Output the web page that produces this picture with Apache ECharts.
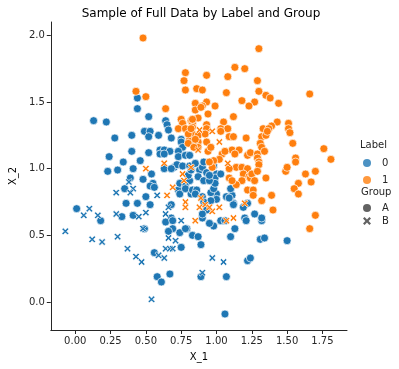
<!DOCTYPE html>
<html>
<head>
<meta charset="utf-8">
<script src="https://cdn.jsdelivr.net/npm/echarts@6/dist/echarts.min.js"></script>
<style>
  html, body { margin: 0; padding: 0; background: #fff; }
  #chart { width: 399px; height: 369px; }
</style>
</head>
<body>
<div id="chart"></div>
<script>
var xTicks = [0, 0.25, 0.5, 0.75, 1.0, 1.25, 1.5, 1.75];
var yTicks = [0, 0.5, 1.0, 1.5, 2.0];

// Label 0, Group A (circles)
var label0A = [
    [0.44,1.53],[0.44,1.45],[0.13,1.36],[0.22,1.35],[0.52,1.39],[0.64,1.36],[0.65,1.33],[0.66,1.29],
    [0.49,1.28],[0.53,1.28],[0.52,1.24],[0.59,1.25],[0.28,1.23],[0.40,1.25],[0.68,1.23],[0.75,1.22],
    [0.75,1.20],[0.76,1.16],[0.60,1.14],[0.63,1.14],[0.67,1.13],[0.60,1.11],[0.63,1.11],[0.73,1.13],
    [0.73,1.09],[0.78,1.10],[0.81,1.10],[0.40,1.13],[0.52,1.12],[0.24,1.09],[0.34,1.05],[0.46,1.06],
    [0.41,1.00],[0.30,0.99],[0.23,0.98],[0.70,1.01],[0.72,1.03],[0.76,1.02],[0.81,1.02],[0.63,1.00],
    [0.68,1.00],[0.39,0.93],[0.48,0.92],[0.54,0.96],[0.55,0.89],[0.53,0.87],[0.56,0.86],[0.73,0.84],
    [0.74,0.81],[0.78,0.85],[0.82,0.81],[0.74,0.89],[0.35,0.85],[0.50,0.79],[0.36,0.74],[0.44,0.74],
    [0.53,0.73],[0.68,0.73],[0.01,0.70],[0.18,0.61],[0.33,0.64],[0.41,0.65],[0.68,0.63],[0.64,0.60],
    [0.69,0.61],[0.79,0.55],[0.74,0.52],[0.69,0.55],[0.66,0.53],[0.83,0.50],[0.49,0.55],[0.75,0.41],
    [0.56,0.37],[0.58,0.19],[0.61,0.15],[0.67,0.21],[1.06,-0.09],[1.07,0.19],[0.89,0.19],[1.22,0.31],
    [1.24,0.33],[1.31,0.47],[1.34,0.48],[1.50,0.46],[1.10,0.49],[1.13,0.55],[0.87,0.49],[0.89,0.43],
    [0.78,0.55],[1.32,0.61],[1.32,0.63],[1.27,0.66],[1.20,0.63],[1.21,0.61],[0.98,0.57],[0.95,0.59],
    [1.03,0.61],[1.06,0.61],[0.90,0.63],[1.22,0.74],[1.19,0.71],[1.11,0.80],[1.12,0.74],[1.12,0.73],
    [1.07,0.79],[1.09,0.78],[1.00,0.81],[1.00,0.77],[0.96,0.82],[0.98,0.85],[0.96,0.76],[0.90,0.79],
    [0.91,0.75],[0.93,0.69],[0.90,0.66],[1.10,0.85],[0.81,0.91],[0.80,0.95],[0.82,0.99],[0.88,0.99],
    [0.90,1.01],[0.85,1.04],[0.91,1.05],[0.87,0.94],[0.91,0.91],[0.93,0.97],[1.00,0.96],[0.99,0.93],
    [0.99,0.89],[0.95,0.91],[0.95,0.95],[0.98,1.02],[1.03,0.96],[0.78,0.87],[0.78,0.85],[0.83,0.84],
    [0.86,0.84],[0.85,0.81]
];

// Label 0, Group B (crosses)
var label0B = [
    [0.38,0.90],[0.41,0.85],[0.39,0.82],[0.29,0.82],[0.58,0.80],[0.66,0.71],[0.10,0.70],[0.06,0.65],
    [0.16,0.65],[0.29,0.66],[0.45,0.64],[0.50,0.67],[0.64,0.66],[0.75,0.61],[0.48,0.55],[-0.07,0.53],
    [0.12,0.47],[0.19,0.45],[0.30,0.49],[0.66,0.48],[0.71,0.46],[0.37,0.40],[0.64,0.40],[0.67,0.40],
    [0.69,0.40],[0.59,0.35],[0.63,0.33],[0.43,0.34],[0.47,0.30],[0.54,0.02],[0.90,0.22],[0.97,0.33],
    [1.05,0.30]
];

// Label 1, Group A (circles)
var label1A = [
    [0.48,1.98],[0.78,1.72],[0.77,1.66],[0.78,1.59],[0.43,1.58],[0.50,1.54],[0.64,1.45],[0.75,1.37],
    [0.76,1.34],[0.82,1.36],[0.73,1.30],[0.82,1.25],[0.81,1.22],[1.30,1.90],[1.13,1.76],[1.20,1.75],
    [1.08,1.69],[1.29,1.66],[0.93,1.70],[1.30,1.58],[1.35,1.55],[1.38,1.53],[1.66,1.56],[1.44,1.49],
    [1.07,1.57],[1.18,1.51],[1.27,1.50],[1.23,1.47],[0.86,1.60],[0.90,1.59],[0.85,1.49],[0.85,1.44],
    [0.93,1.50],[0.90,1.47],[0.99,1.47],[0.94,1.41],[1.12,1.39],[0.87,1.38],[0.83,1.34],[1.05,1.35],
    [1.43,1.35],[1.51,1.34],[0.78,1.30],[0.83,1.31],[0.93,1.33],[0.93,1.30],[1.03,1.30],[1.08,1.30],
    [1.33,1.30],[1.39,1.32],[1.37,1.30],[1.51,1.30],[1.52,1.27],[0.83,1.26],[0.87,1.25],[0.80,1.26],
    [0.92,1.26],[1.03,1.28],[1.09,1.24],[1.12,1.24],[1.21,1.23],[1.32,1.24],[1.35,1.25],[1.36,1.28],
    [1.31,1.19],[1.32,1.16],[1.54,1.19],[0.84,1.18],[0.87,1.20],[0.87,1.16],[0.93,1.20],[0.94,1.13],
    [0.96,1.16],[1.11,1.14],[1.16,1.14],[1.13,1.11],[1.04,1.11],[1.06,1.13],[1.02,1.07],[1.22,1.10],
    [1.24,1.12],[1.29,1.11],[1.29,1.08],[1.30,1.05],[1.56,1.08],[1.76,1.15],[1.81,1.07],[0.98,1.06],
    [0.97,1.01],[0.89,1.46],[0.83,1.37],[0.82,1.30],[0.85,1.22],[0.80,1.19],[0.84,1.16],[1.34,1.13],
    [1.14,1.01],[1.09,1.00],[1.67,0.90],[0.95,1.05],[1.18,1.01],[1.22,1.00],[1.19,0.96],[1.23,0.94],
    [1.30,1.03],[1.18,0.91],[1.14,0.88],[1.09,0.93],[1.11,0.91],[1.24,0.93],[1.25,0.96],[1.29,0.98],
    [1.35,0.93],[1.27,0.91],[1.22,0.84],[1.26,0.84],[1.26,0.80],[1.32,0.76],[1.40,0.69],[1.39,0.80],
    [1.49,0.98],[1.50,1.01],[1.56,1.05],[1.63,0.96],[1.70,0.98],[1.58,0.89],[1.55,0.85],[1.58,0.81],
    [1.66,0.55],[1.70,0.65]
];

// Label 1, Group B (crosses)
var label1B = [
    [0.63,1.04],[0.50,1.00],[0.76,0.96],[0.82,1.01],[0.69,0.86],[0.77,0.91],[0.65,0.80],[0.78,0.75],
    [0.78,0.71],[0.85,0.61],[1.07,0.61],[1.12,0.63],[0.97,0.68],[1.02,0.71],[1.20,0.74],[0.88,0.71],
    [0.92,0.73],[0.95,0.71],[0.89,0.78],[0.88,1.29],[0.97,1.28],[1.02,1.20],[1.08,1.04],[0.87,1.14]
];

var blue = '#1f77b4';
var orange = '#ff7f0e';
var dark = '#3b3b3b';
var cross = 'path://M0,2 L2,0 L5,3 L8,0 L10,2 L7,5 L10,8 L8,10 L5,7 L2,10 L0,8 L3,5 Z';
var font = 'DejaVu Sans';

function points(name, data, color, symbol) {
    return {
        name: name,
        type: 'scatter',
        data: data,
        symbol: symbol,
        symbolSize: symbol === 'circle' ? 8 : 7,
        itemStyle: {color: color, borderColor: '#fff', borderWidth: 0.7, opacity: 1},
        emphasis: {disabled: true},
        animation: false
    };
}

function dummy(name, color, symbol) {
    return {name: name, type: 'scatter', data: [], symbol: symbol, itemStyle: {color: color}};
}

var chart = echarts.init(document.getElementById('chart'), null, {renderer: 'canvas'});
var option = {
    animation: false,
    textStyle: {fontFamily: font},
    title: {
        text: 'Sample of Full Data by Label and Group',
        left: 196, top: 3, textAlign: 'center',
        textStyle: {fontSize: 12, fontWeight: 'normal', color: '#000', fontFamily: font}
    },
    grid: {left: 45, right: 52, top: 22, bottom: 39, containLabel: false},
    xAxis: {
        type: 'value', min: -0.173, max: 1.924,
        name: 'X_1', nameLocation: 'middle', nameGap: 22,
        nameTextStyle: {fontSize: 10, color: '#000', fontFamily: font},
        axisLine: {onZero: false, lineStyle: {color: '#262626', width: 1}},
        axisTick: {show: true, length: 4, customValues: xTicks, lineStyle: {color: '#262626'}},
        axisLabel: {customValues: xTicks, fontSize: 10, color: '#262626', margin: 6,
            formatter: function (v) { return v.toFixed(2); }},
        splitLine: {show: false}
    },
    yAxis: {
        type: 'value', min: -0.21, max: 2.1,
        name: 'X_2', nameLocation: 'middle', nameGap: 30, nameRotate: 90,
        nameTextStyle: {fontSize: 10, color: '#000', fontFamily: font},
        axisLine: {show: true, onZero: false, lineStyle: {color: '#262626', width: 1}},
        axisTick: {show: true, length: 4, customValues: yTicks, lineStyle: {color: '#262626'}},
        axisLabel: {customValues: yTicks, fontSize: 10, color: '#262626', margin: 6,
            formatter: function (v) { return v.toFixed(1); }},
        splitLine: {show: false}
    },
    legend: [
        {
            left: 358, top: 153, orient: 'vertical', itemWidth: 8, itemHeight: 8, itemGap: 7,
            data: [{name: '0', icon: 'circle'}, {name: '1', icon: 'circle'}],
            textStyle: {fontSize: 10, color: '#262626', padding: [0, 0, 0, 6]}
        },
        {
            left: 358, top: 198, orient: 'vertical', itemWidth: 8, itemHeight: 8, itemGap: 3,
            data: [{name: 'A', icon: 'circle'}, {name: 'B', icon: cross}],
            textStyle: {fontSize: 10, color: '#262626', padding: [0, 0, 0, 6]}
        }
    ],
    graphic: [
        {type: 'text', left: 360, top: 140, style: {text: 'Label', fontSize: 10, fill: '#262626', fontFamily: font}},
        {type: 'text', left: 361, top: 187, style: {text: 'Group', fontSize: 10, fill: '#262626', fontFamily: font}}
    ],
    series: [
        points('label0A', label0A, blue, 'circle'),
        points('label1A', label1A, orange, 'circle'),
        points('label0B', label0B, blue, cross),
        points('label1B', label1B, orange, cross),
        dummy('0', blue, 'circle'),
        dummy('1', orange, 'circle'),
        dummy('A', dark, 'circle'),
        dummy('B', dark, cross)
    ]
};
chart.setOption(option);
</script>
</body>
</html>
